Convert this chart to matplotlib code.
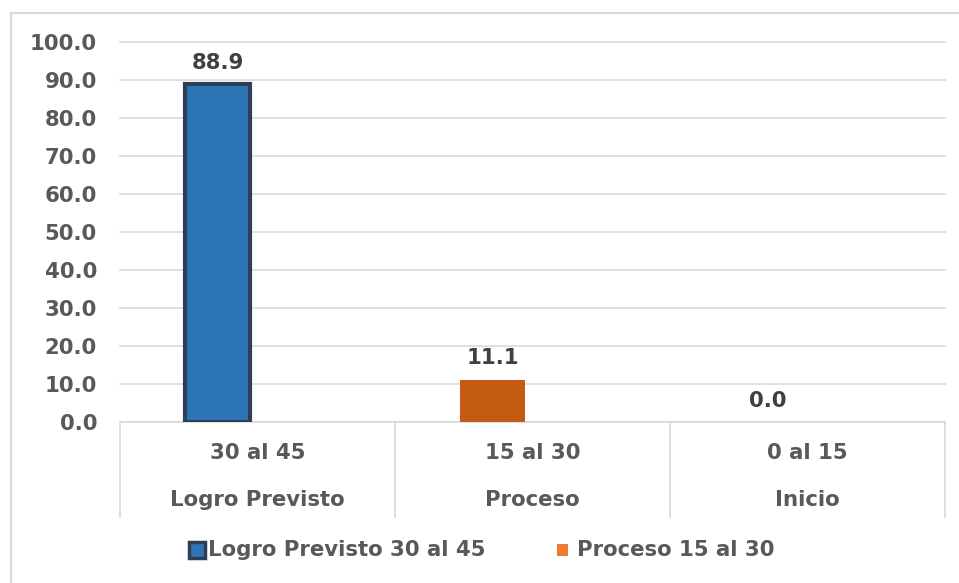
import matplotlib
matplotlib.use("Agg")
import matplotlib.pyplot as plt
from matplotlib.patches import Rectangle
from matplotlib.lines import Line2D
import numpy as np

plt.rcParams['font.family'] = ['DejaVu Sans']

ranges = ["30 al 45", "15 al 30", "0 al 15"]
levels = ["Logro Previsto", "Proceso", "Inicio"]
values = [88.9, 11.1, 0.0]
series_names = ["Logro Previsto 30 al 45", "Proceso 15 al 30"]
yticks = [0, 10, 20, 30, 40, 50, 60, 70, 80, 90, 100]

W, H = 959, 583
FS = 15.3
fig = plt.figure(figsize=(W / 100, H / 100), dpi=100)
fig.patch.set_facecolor("white")

# outer chart border (left and top visible)
fig.add_artist(Rectangle((11 / W, -0.1), 1.2, 1 - 13 / H + 0.1, transform=fig.transFigure,
                         fill=False, edgecolor="#d9d9d9", linewidth=1.5))

L, R, T, B = 120, 945, 42, 422
ax = fig.add_axes([L / W, 1 - B / H, (R - L) / W, (B - T) / H])
ax.set_xlim(-0.5, 2.5)
ax.set_ylim(0, 100)

for s in ax.spines.values():
    s.set_visible(False)
ax.set_yticks(yticks)
ax.set_yticklabels([f"{v:.1f}" for v in yticks])
ax.tick_params(axis="y", length=0, pad=16.5, labelsize=FS, labelcolor="#595959")
for lab in ax.get_yticklabels():
    lab.set_fontweight("bold")
ax.set_xticks([])
ax.yaxis.grid(True, color="#d9d9d9", linewidth=1.2)
for gl in ax.get_ygridlines():
    gl.set_clip_on(False)
ax.set_axisbelow(True)
ax.axhline(0, color="#d9d9d9", linewidth=1.5)

x = np.arange(len(values))
width = 0.236
offset = -0.145
fills = ["#2e75b6", "#c55a11", "#a5a5a5"]
edges = ["#2f3e56", "#c55a11", "#a5a5a5"]
lws = [3, 0, 0]
for i, v in enumerate(values):
    ax.bar(x[i] + offset, v, width, color=fills[i], edgecolor=edges[i], linewidth=lws[i], zorder=3)
    ax.text(x[i] + offset, v + 3, f"{v:.1f}", ha="center", va="bottom",
            fontsize=FS, fontweight="bold", color="#404040")

# category separators
sep_depth = (517 - B) / (B - T)
for k in range(len(values) + 1):
    ax.add_line(Line2D([k - 0.5, k - 0.5], [0, -sep_depth * 100], color="#d9d9d9",
                       linewidth=1.2, clip_on=False, transform=ax.transData))

for i in range(len(values)):
    ax.text(x[i], -(453 - B) / (B - T) * 100, ranges[i], ha="center", va="center",
            fontsize=FS, fontweight="bold", color="#595959", clip_on=False)
    ax.text(x[i], -(500 - B) / (B - T) * 100, levels[i], ha="center", va="center",
            fontsize=FS, fontweight="bold", color="#595959", clip_on=False)

# legend
ly = 1 - 550 / H
fig.add_artist(Rectangle((189 / W, ly - 8 / H), 16 / W, 16 / H, transform=fig.transFigure,
                         facecolor=fills[0], edgecolor=edges[0], linewidth=2.5))
fig.text(208 / W, ly, series_names[0], ha="left", va="center", fontsize=FS,
         fontweight="bold", color="#595959")
fig.add_artist(Rectangle((557 / W, ly - 6 / H), 11 / W, 12 / H, transform=fig.transFigure,
                         facecolor="#ed7d31", edgecolor="none"))
fig.text(577 / W, ly, series_names[1], ha="left", va="center", fontsize=FS,
         fontweight="bold", color="#595959")

fig.savefig("out.png", dpi=100, facecolor="white")
